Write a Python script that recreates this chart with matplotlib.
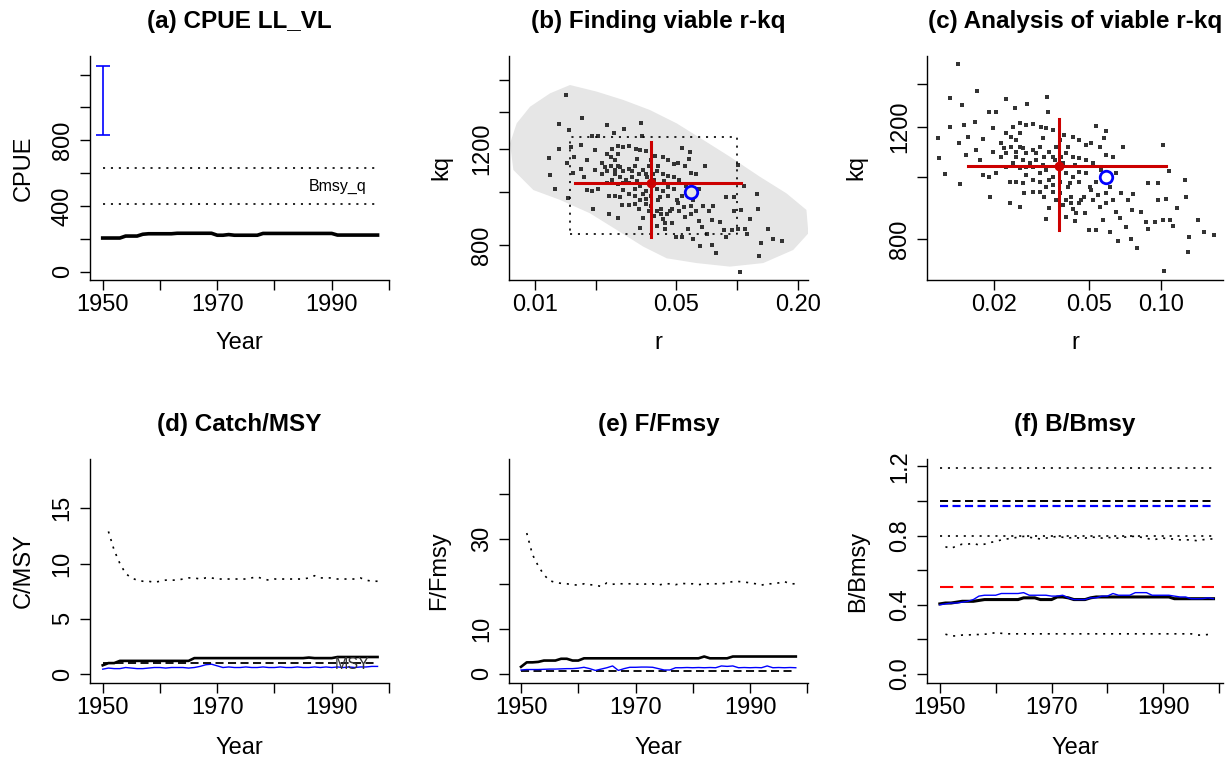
import numpy as np
import matplotlib
matplotlib.use("Agg")
import matplotlib.pyplot as plt

plt.rcParams['font.family'] = ['Liberation Sans', 'DejaVu Sans']
plt.rcParams['lines.scale_dashes'] = False

W, H = 1226, 763

# ---------------- data ----------------
years_c = np.arange(1950, 1999)   # catch, CPUE, F years
years_b = np.arange(1950, 2000)   # biomass years

cpue = [205, 205, 205, 205, 217, 217, 217, 228, 231, 231, 231, 231, 231,
        234, 234, 234, 234, 234, 234, 234, 222, 222, 226, 222, 222, 222,
        222, 222, 233, 233, 233, 233, 233, 233, 233, 233, 233, 233, 233,
        233, 233, 223, 223, 223, 223, 223, 223, 223, 223]
cpue_ci_low, cpue_ci_high = 834, 1254
bmsy_q_low, bmsy_q_high = 414, 629

# viable r-kq pairs (dark points, panels b and c)
r_viable = [0.0142, 0.0131, 0.0170, 0.0226, 0.0334, 0.0117, 0.0118, 0.0125, 0.0145, 0.0194,
            0.0147, 0.0150, 0.0168, 0.0132, 0.0191, 0.0204, 0.0245, 0.0275, 0.0338, 0.0536,
            0.0586, 0.0580, 0.0696, 0.1015, 0.1082, 0.1258, 0.127, 0.1421, 0.1311, 0.129,
            0.1514, 0.1667, 0.1032, 0.0791, 0.0749, 0.0659, 0.0609, 0.0502, 0.0536, 0.0571,
            0.0439, 0.0331, 0.0257, 0.0233, 0.1118, 0.1165, 0.0968, 0.0879, 0.0968, 0.1048,
            0.1093, 0.1015, 0.0946, 0.0865, 0.0879, 0.0825, 0.0756, 0.0714, 0.0670, 0.0649,
            0.0761, 0.0726, 0.0681, 0.0628, 0.0590, 0.0609, 0.0649, 0.0562, 0.0536, 0.0506,
            0.0476, 0.0452, 0.0428, 0.0402, 0.0389, 0.0377, 0.0353, 0.0342, 0.0331, 0.0311,
            0.0292, 0.0269, 0.0265, 0.0249, 0.0233, 0.0226, 0.0205, 0.0192, 0.0181, 0.0175,
            0.0169, 0.0154, 0.0144, 0.0156, 0.0181, 0.0199, 0.0215, 0.0226, 0.0241, 0.0257,
            0.0274, 0.0292, 0.0316, 0.0331, 0.0353, 0.0377, 0.0395, 0.0428, 0.0456, 0.0487,
            0.0510, 0.0553, 0.0590, 0.0628, 0.0226, 0.0249, 0.0257, 0.0274, 0.0292, 0.0311,
            0.0342, 0.0353, 0.0402, 0.0428, 0.0456, 0.0487, 0.0519, 0.0292, 0.0311, 0.0331,
            0.0353, 0.0402, 0.0428, 0.0456, 0.0487, 0.0274, 0.0257, 0.0241, 0.0311, 0.0342,
            0.0377, 0.0415, 0.0456, 0.0292, 0.0215, 0.0199, 0.0249, 0.0321, 0.0365, 0.0408,
            0.0257, 0.0237, 0.0301, 0.0389, 0.0464, 0.0421, 0.0365, 0.0519, 0.0479, 0.0553,
            0.0590, 0.0402, 0.0442, 0.0249, 0.0265, 0.0283, 0.0301, 0.0326, 0.0359, 0.0383,
            0.0265, 0.0237, 0.0222, 0.0274, 0.0321, 0.0371, 0.0435, 0.0408, 0.0353, 0.0326,
            0.0421, 0.0510, 0.0544]
kq_viable = [1505, 1330, 1365, 1327, 1336, 1153, 1072, 1012, 976, 932,
             1296, 1207, 1218, 1199, 1265, 1264, 1281, 1304, 1264, 1203,
             1183, 1150, 1115, 1122, 1024, 990, 932, 857, 805, 762,
             821, 812, 714, 774, 800, 795, 819, 826, 826, 857,
             855, 860, 897, 912, 838, 894, 921, 978, 980, 925,
             857, 857, 852, 852, 828, 881, 888, 836, 862, 883,
             941, 921, 943, 921, 943, 966, 1014, 1026, 984, 966,
             932, 910, 891, 921, 905, 943, 949, 896, 966, 949,
             947, 946, 978, 984, 984, 1038, 1014, 1002, 1008, 1064,
             1103, 1083, 1130, 1157, 1146, 1193, 1130, 1171, 1200, 1215,
             1207, 1212, 1200, 1193, 1186, 1143, 1164, 1157, 1143, 1123,
             1130, 1116, 1083, 1077, 1090, 1096, 1116, 1090, 1103, 1116,
             1096, 1077, 1090, 1077, 1071, 1064, 1051, 1038, 1014, 1026,
             1002, 1014, 1002, 1020, 1014, 1008, 1032, 1051, 984, 990,
             984, 978, 984, 990, 1077, 1096, 1143, 1150, 1116, 1116,
             1171, 1157, 1064, 1051, 921, 932, 921, 921, 878, 899,
             910, 867, 878, 1077, 1064, 1051, 1090, 1077, 1064, 1077,
             1110, 1116, 1110, 1038, 1045, 1032, 1045, 966, 972, 932,
             910, 955, 938]

# outline of the light grey cloud of all tested r-kq pairs (panel b)
cloud_r = [0.00752, 0.00811, 0.00945, 0.01187, 0.0149, 0.0202, 0.0274, 0.0371, 0.0503,
           0.0681, 0.0923, 0.130, 0.176, 0.221, 0.226, 0.190, 0.135, 0.0923, 0.0632,
           0.0449, 0.0344, 0.0254, 0.0187, 0.0133, 0.00981, 0.00781]
cloud_kq = [1227, 1335, 1432, 1515, 1569, 1526, 1473, 1412, 1335, 1245, 1160, 1066,
            994, 927, 840, 783, 741, 730, 741, 756, 794, 852, 914, 967, 1008, 1097]

box_r = (0.0149, 0.0996)
box_kq = (837, 1259)
r_est, r_lo, r_hi = 0.0375, 0.0157, 0.105
kq_est, kq_lo, kq_hi = 1040, 826, 1233
r_bsm, kq_bsm = 0.059, 999

# (d) catch / MSY
cmsy = [0.8, 1.0, 1.0, 1.2, 1.2, 1.2, 1.2, 1.2, 1.2, 1.2, 1.2, 1.2, 1.2, 1.2, 1.2, 1.2,
        1.45, 1.45, 1.45, 1.45, 1.45, 1.45, 1.45, 1.45, 1.45, 1.45, 1.45, 1.45, 1.45,
        1.45, 1.45, 1.45, 1.45, 1.45, 1.45, 1.45, 1.5, 1.45, 1.45, 1.45, 1.45,
        1.55, 1.55, 1.55, 1.55, 1.55, 1.55, 1.55, 1.55]
cmsy_bsm = [0.45, 0.55, 0.5, 0.5, 0.6, 0.55, 0.5, 0.5, 0.55, 0.6, 0.6, 0.55, 0.6, 0.6,
            0.6, 0.55, 0.6, 0.7, 0.85, 0.9, 0.75, 0.6, 0.65, 0.6, 0.6, 0.65, 0.6, 0.6,
            0.65, 0.6, 0.6, 0.65, 0.6, 0.6, 0.65, 0.6, 0.6, 0.65, 0.6, 0.65, 0.6, 0.65,
            0.6, 0.65, 0.6, 0.65, 0.65, 0.7, 0.7]
cmsy_up = [12.9, 11.2, 10.0, 9.1, 8.7, 8.5, 8.4, 8.4, 8.3, 8.4, 8.5, 8.5, 8.5, 8.6, 8.7,
           8.7, 8.6, 8.7, 8.7, 8.6, 8.6, 8.6, 8.6, 8.6, 8.6, 8.7, 8.8, 8.6, 8.5, 8.6,
           8.6, 8.6, 8.6, 8.6, 8.6, 8.7, 8.9, 8.7, 8.7, 8.7, 8.6, 8.6, 8.6, 8.6, 8.7,
           8.5, 8.4, 8.4]
msy_rel = 1.0

# (e) F / Fmsy
ffmsy = [1.5, 2.5, 2.5, 2.6, 2.9, 2.9, 2.9, 3.3, 3.3, 2.9, 2.9,
         3.4, 3.4, 3.4, 3.4, 3.4, 3.4, 3.4, 3.4, 3.4, 3.4, 3.4, 3.4, 3.4, 3.4, 3.4,
         3.4, 3.4, 3.4, 3.4, 3.4, 3.4, 3.8, 3.4, 3.4, 3.4, 3.4,
         3.8, 3.8, 3.8, 3.8, 3.8, 3.8, 3.8, 3.8, 3.8, 3.8, 3.8, 3.8]
ffmsy_bsm = [0.8, 0.9, 0.9, 0.9, 0.95, 1.0, 1.0, 1.05, 1.1, 1.1, 1.2, 1.4, 1.1, 0.7,
             1.0, 1.3, 1.7, 0.7, 1.1, 1.4, 1.4, 1.45, 1.45, 1.4, 1.1, 0.8, 0.8, 1.3,
             1.3, 1.35, 1.3, 1.35, 1.3, 1.35, 1.3, 1.7, 1.6, 1.7, 1.3, 1.35, 1.3, 1.35,
             1.3, 1.7, 1.3, 1.35, 1.3, 1.35, 1.3]
ffmsy_up = [31.3, 26.5, 24.0, 22.0, 20.7, 20.3, 20.1, 20.0, 19.8, 19.7, 20.0, 19.8,
            19.7, 19.4, 20.2, 19.9, 20.0, 20.0, 20.0, 20.0, 19.8, 20.0, 20.0, 19.7,
            20.0, 20.0, 19.8, 20.1, 20.0, 20.0, 19.8, 20.0, 20.0, 20.0, 20.0, 20.2,
            20.5, 20.5, 20.4, 20.2, 20.0, 19.7, 20.0, 20.0, 20.2, 20.5, 20.0, 20.0]
fmsy_ref = 0.5

# (f) B / Bmsy
bbmsy = [0.405, 0.41, 0.41, 0.415, 0.42, 0.42, 0.42, 0.425, 0.43, 0.43, 0.43, 0.43,
         0.43, 0.43, 0.43, 0.44, 0.44, 0.44, 0.43, 0.43, 0.43, 0.445, 0.445, 0.44,
         0.43, 0.43, 0.43, 0.44, 0.445, 0.445, 0.445, 0.445, 0.445, 0.445, 0.445,
         0.445, 0.445, 0.445, 0.445, 0.445, 0.445, 0.445, 0.435, 0.435, 0.435, 0.435,
         0.435, 0.435, 0.435, 0.435]
bbmsy_bsm = [0.40, 0.405, 0.41, 0.41, 0.415, 0.42, 0.43, 0.45, 0.455, 0.455, 0.455,
             0.465, 0.465, 0.465, 0.465, 0.47, 0.455, 0.455, 0.455, 0.455, 0.45, 0.45,
             0.455, 0.44, 0.43, 0.43, 0.43, 0.44, 0.44, 0.45, 0.45, 0.465, 0.455, 0.455,
             0.455, 0.47, 0.47, 0.47, 0.455, 0.455, 0.455, 0.455, 0.45, 0.445, 0.445,
             0.435, 0.435, 0.435, 0.44, 0.435]
bbmsy_up = [0.735, 0.725, 0.74, 0.75, 0.75, 0.755, 0.745, 0.75, 0.76, 0.765, 0.775,
            0.78, 0.785, 0.79, 0.795, 0.79, 0.785, 0.78, 0.785, 0.79, 0.795, 0.79,
            0.785, 0.79, 0.785, 0.785, 0.79, 0.79, 0.785, 0.79, 0.785, 0.785, 0.79,
            0.795, 0.795, 0.79, 0.785, 0.775, 0.78, 0.785, 0.78, 0.78, 0.775, 0.775,
            0.775, 0.77, 0.775, 0.78, 0.78]
bbmsy_low = [0.23, 0.22, 0.22, 0.225, 0.225, 0.228, 0.228, 0.23, 0.232, 0.24, 0.235,
             0.232, 0.232, 0.232, 0.232, 0.232, 0.232, 0.232, 0.232, 0.232, 0.232,
             0.232, 0.232, 0.232, 0.232, 0.232, 0.232, 0.232, 0.232, 0.232, 0.232,
             0.232, 0.232, 0.232, 0.232, 0.232, 0.232, 0.232, 0.232, 0.232, 0.232,
             0.232, 0.232, 0.232, 0.232, 0.225, 0.225, 0.228, 0.228]
b_refs = {'top': 1.19, 'one': 1.0, 'bsm': 0.97, 'upper': 0.8, 'half': 0.5}

# ---------------- figure ----------------
fig = plt.figure(figsize=(W / 100, H / 100), dpi=100)

DOT = (0, (1.5, 4.2))
DASH = (0, (5.8, 3.2))
LONGDASH = (0, (9.5, 5.0))
PT_COLOR = '#333333'
PT_SIZE = 2.7


def add_ax(x0, y0, x1, y1):
    return fig.add_axes([x0 / W, 1 - y1 / H, (x1 - x0) / W, (y1 - y0) / H])


def r_style(ax, title, xlabel, ylabel, ylab_x, xlab_y):
    for s in ['top', 'right']:
        ax.spines[s].set_visible(False)
    for s in ['left', 'bottom']:
        ax.spines[s].set_linewidth(1.0)
    ax.tick_params(length=7.2, width=1.0, labelsize=17, direction='out')
    ax.tick_params(axis='x', pad=3)
    ax.tick_params(axis='y', pad=4.5)
    ax.set_title(title, fontsize=17.5, fontweight='bold', pad=20)
    ax.set_xlabel(xlabel, fontsize=17)
    ax.set_ylabel(ylabel, fontsize=17)
    ax.yaxis.set_label_coords(ylab_x, 0.5)
    ax.xaxis.set_label_coords(0.5, xlab_y)


def set_y(ax, ticks, labels):
    ax.set_yticks(ticks)
    ax.set_yticklabels(labels, rotation=90, va='center')


def rk_marks(ax):
    ax.plot(r_viable, kq_viable, ls='none', marker='s', ms=PT_SIZE, color=PT_COLOR,
            mew=0, zorder=2)
    ax.plot([r_lo, r_hi], [kq_est, kq_est], color='#cc0000', lw=2.2, zorder=4)
    ax.plot([r_est, r_est], [kq_lo, kq_hi], color='#cc0000', lw=2.2, zorder=4)
    ax.plot([r_est], [kq_est], marker='o', ms=6, color='#cc0000', zorder=5)
    ax.plot([r_bsm], [kq_bsm], marker='o', ms=9, mfc='none', mec='blue', mew=2, zorder=5)


year_ticks = [1950, 1960, 1970, 1980, 1990, 2000]
year_labels = ['1950', '', '1970', '', '1990', '']

# (a) CPUE
ax = add_ax(90, 56, 389, 280)
ax.plot(years_c, cpue, color='black', lw=2.6)
ax.plot([years_c[0], years_c[-1]], [bmsy_q_high] * 2, color='black', lw=1.2, ls=DOT)
ax.plot([years_c[0], years_c[-1]], [bmsy_q_low] * 2, color='black', lw=1.2, ls=DOT)
ax.text(1991, (bmsy_q_low + bmsy_q_high) / 2, 'Bmsy_q', fontsize=11.5,
        ha='center', va='center')
ax.errorbar([years_c[0]], [(cpue_ci_low + cpue_ci_high) / 2],
            yerr=[[(cpue_ci_high - cpue_ci_low) / 2]] * 2, color='blue',
            lw=1.2, capsize=5, capthick=1.2)
ax.set_xlim(1947.78, 2000.0)
ax.set_ylim(-50.5, 1313)
ax.set_xticks(year_ticks)
ax.set_xticklabels(year_labels)
set_y(ax, [0, 200, 400, 600, 800, 1000, 1200], ['0', '', '400', '', '800', '', ''])
r_style(ax, '(a) CPUE LL_VL', 'Year', 'CPUE', -0.184, -0.232)

# (b) finding viable r-kq
ax = add_ax(509, 56, 808, 280)
ax.set_xscale('log')
ax.set_yscale('log')
ax.fill(cloud_r, cloud_kq, color='#e6e6e6', lw=0, zorder=1)
ax.plot([box_r[0], box_r[1], box_r[1], box_r[0], box_r[0]],
        [box_kq[0], box_kq[0], box_kq[1], box_kq[1], box_kq[0]],
        color='black', lw=1.2, ls=DOT, zorder=3)
rk_marks(ax)
ax.set_xlim(0.00743, 0.225)
ax.set_ylim(690, 1773)
ax.minorticks_off()
ax.set_xticks([0.01, 0.02, 0.05, 0.1, 0.2])
ax.set_xticklabels(['0.01', '', '0.05', '', '0.20'])
set_y(ax, [800, 1000, 1200, 1400, 1600], ['800', '', '1200', '', ''])
ax.minorticks_off()
r_style(ax, '(b) Finding viable r-kq', 'r', 'kq', -0.188, -0.232)

# (c) analysis of viable r-kq
ax = add_ax(927, 56, 1223, 280)
ax.set_xscale('log')
ax.set_yscale('log')
rk_marks(ax)
ax.set_xlim(0.01055, 0.181)
ax.set_ylim(690, 1548)
ax.minorticks_off()
ax.set_xticks([0.02, 0.05, 0.1])
ax.set_xticklabels(['0.02', '0.05', '0.10'])
set_y(ax, [800, 1000, 1200, 1400], ['800', '', '1200', ''])
ax.minorticks_off()
r_style(ax, '(c) Analysis of viable r-kq', 'r', 'kq', -0.201, -0.232)

# (d) catch / MSY
ax = add_ax(90, 459, 389, 683)
ax.plot(years_c[1:], cmsy_up, color='black', lw=1.2, ls=DOT)
ax.plot(years_c, cmsy_bsm, color='blue', lw=1.0)
ax.plot([years_c[0], years_c[-1]], [msy_rel] * 2, color='black', lw=1.3, ls=DASH)
ax.plot(years_c, cmsy, color='black', lw=1.9)
ax.text(1993.5, 0.85, 'MSY', fontsize=11.5, ha='center', va='center', color='#333333')
ax.set_xlim(1947.78, 2000.0)
ax.set_ylim(-0.8, 19.45)
ax.set_xticks(year_ticks)
ax.set_xticklabels(year_labels)
set_y(ax, [0, 5, 10, 15], ['0', '5', '10', '15'])
r_style(ax, '(d) Catch/MSY', 'Year', 'C/MSY', -0.184, -0.241)

# (e) F / Fmsy
ax = add_ax(509, 459, 808, 683)
ax.plot(years_c[1:], ffmsy_up, color='black', lw=1.2, ls=DOT)
ax.plot([years_c[0], years_c[-1]], [fmsy_ref] * 2, color='black', lw=1.3, ls=DASH)
ax.plot(years_c, ffmsy_bsm, color='blue', lw=1.0)
ax.plot(years_c, ffmsy, color='black', lw=1.9)
ax.set_xlim(1947.9, 2000.13)
ax.set_ylim(-2.1, 47.8)
ax.set_xticks(year_ticks)
ax.set_xticklabels(year_labels)
set_y(ax, [0, 10, 20, 30, 40], ['0', '10', '', '30', ''])
r_style(ax, '(e) F/Fmsy', 'Year', 'F/Fmsy', -0.197, -0.241)

# (f) B / Bmsy
ax = add_ax(927, 459, 1223, 683)
span = [years_b[0], years_b[-1]]
ax.plot(span, [b_refs['top']] * 2, color='black', lw=1.2, ls=DOT)
ax.plot(span, [b_refs['one']] * 2, color='black', lw=1.4, ls=DASH)
ax.plot(span, [b_refs['bsm']] * 2, color='blue', lw=1.6, ls=DASH)
ax.plot(span, [b_refs['upper']] * 2, color='black', lw=1.2, ls=DOT)
ax.plot(span, [b_refs['half']] * 2, color='red', lw=1.5, ls=LONGDASH)
ax.plot(years_b[1:], bbmsy_up, color='black', lw=1.2, ls=DOT)
ax.plot(years_b[1:], bbmsy_low, color='black', lw=1.2, ls=DOT)
ax.plot(years_b, bbmsy, color='black', lw=2.2)
ax.plot(years_b, bbmsy_bsm, color='blue', lw=1.0)
ax.set_xlim(1947.7, 2000.7)
ax.set_ylim(-0.052, 1.242)
ax.set_xticks(year_ticks)
ax.set_xticklabels(year_labels)
set_y(ax, [0.0, 0.2, 0.4, 0.6, 0.8, 1.0, 1.2], ['0.0', '', '0.4', '', '0.8', '', '1.2'])
r_style(ax, '(f) B/Bmsy', 'Year', 'B/Bmsy', -0.194, -0.241)

fig.savefig('out.png', dpi=100)
